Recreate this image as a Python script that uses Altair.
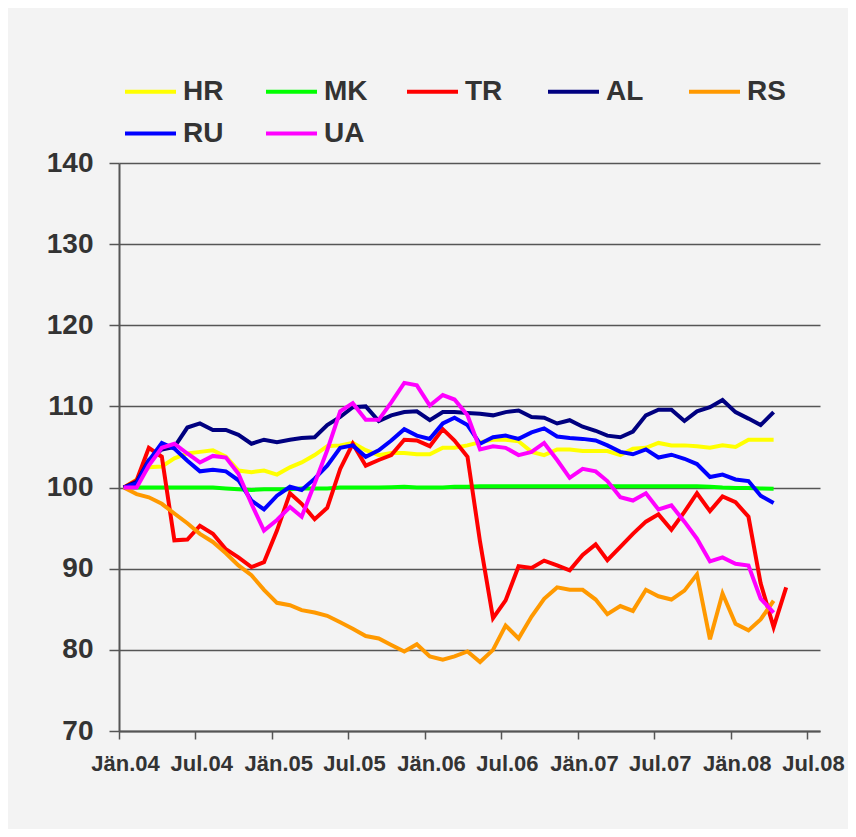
import json
import altair as alt
import pandas as pd

# ---------------- data ----------------
series = ["HR", "MK", "TR", "AL", "RS", "RU", "UA"]
colors = ["#FFFF00", "#00FF00", "#FF0000", "#000080", "#FF9900", "#0000FF", "#FF00FF"]

months = pd.date_range("2004-01-01", periods=53, freq="MS").strftime("%Y-%m-%d").tolist()

tick_labels = ["Jän.04", "Jul.04", "Jän.05", "Jul.05", "Jän.06",
               "Jul.06", "Jän.07", "Jul.07", "Jän.08", "Jul.08"]
y_ticks = [70, 80, 90, 100, 110, 120, 130, 140]

HR = [100, 101.0, 102.5, 102.6, 103.6, 104.2, 104.4, 104.6, 103.8, 102.1,
      101.9, 102.1, 101.6, 102.5, 103.1, 104.0, 105.1, 105.2, 105.5, 104.6,
      104.0, 104.25, 104.25, 104.1, 104.1, 104.9, 104.9, 105.2, 105.6, 105.9,
      105.9, 105.7, 104.4, 104.0, 104.7, 104.7, 104.5, 104.5, 104.5, 104.0,
      104.8, 104.9, 105.5, 105.2, 105.2, 105.1, 104.9, 105.2, 105.0, 105.9,
      105.9, 105.9]
MK = [100, 100, 100, 100, 100, 100, 100, 100, 99.9, 99.8,
      99.7, 99.8, 99.8, 99.8, 99.9, 99.9, 99.9, 100.0, 100.0, 100.0,
      100.0, 100.05, 100.1, 100.0, 100.0, 100.0, 100.1, 100.1, 100.15, 100.15,
      100.15, 100.15, 100.15, 100.15, 100.15, 100.15, 100.15, 100.15, 100.15, 100.15,
      100.15, 100.15, 100.15, 100.15, 100.15, 100.15, 100.1, 100.0, 99.95, 99.95,
      99.9, 99.85]
TR = [100, 100.9, 104.9, 103.8, 93.5, 93.6, 95.3, 94.3, 92.4, 91.4,
      90.2, 90.8, 94.7, 99.3, 98.0, 96.1, 97.5, 102.3, 105.4, 102.7,
      103.4, 104.0, 105.9, 105.8, 105.1, 107.2, 105.8, 103.8, 93.3, 83.9,
      86.1, 90.3, 90.1, 91.0, 90.4, 89.8, 91.7, 93.0, 91.05, 92.7,
      94.3, 95.8, 96.7, 94.8, 97.0, 99.3, 97.1, 98.9, 98.2, 96.4,
      88.2, 82.8, 87.7]
AL = [100, 100.7, 103.4, 104.7, 105.0, 107.4, 107.9, 107.1, 107.1, 106.5,
      105.4, 105.9, 105.6, 105.9, 106.1, 106.2, 107.7, 108.7, 109.9, 110.0,
      108.2, 108.9, 109.3, 109.4, 108.3, 109.3, 109.3, 109.2, 109.1, 108.9,
      109.3, 109.5, 108.7, 108.6, 107.9, 108.3, 107.5, 107.0, 106.4, 106.2,
      106.9, 108.9, 109.6, 109.6, 108.2, 109.4, 109.9, 110.8, 109.3, 108.5,
      107.7, 109.3]
RS = [100, 99.2, 98.8, 98.0, 96.8, 95.6, 94.3, 93.3, 91.9, 90.4,
      89.2, 87.4, 85.8, 85.5, 84.9, 84.6, 84.2, 83.4, 82.6, 81.7,
      81.4, 80.6, 79.8, 80.7, 79.2, 78.8, 79.2, 79.8, 78.5, 80.0,
      83.0, 81.4, 84.1, 86.3, 87.7, 87.4, 87.4, 86.2, 84.4, 85.4,
      84.8, 87.4, 86.6, 86.2, 87.3, 89.3, 81.3, 86.95, 83.2, 82.4,
      83.75, 86.05]
RU = [100, 100.5, 103.3, 105.5, 104.8, 103.3, 102.0, 102.2, 102.0, 100.9,
      98.4, 97.3, 99.0, 100.1, 99.7, 101.1, 102.7, 104.9, 105.2, 103.8,
      104.6, 105.8, 107.2, 106.4, 106.0, 107.9, 108.6, 107.7, 105.4, 106.2,
      106.4, 106.0, 106.8, 107.3, 106.3, 106.1, 106.0, 105.8, 105.2, 104.4,
      104.1, 104.7, 103.7, 104.05, 103.55, 102.9, 101.3, 101.6, 101.0, 100.8,
      99.0, 98.1]
UA = [100, 100.0, 102.7, 104.9, 105.4, 104.2, 103.1, 103.9, 103.7, 101.7,
      98.0, 94.7, 96.0, 97.6, 96.4, 100.5, 104.6, 109.4, 110.4, 108.35,
      108.35, 110.5, 112.9, 112.6, 110.1, 111.4, 110.85, 108.9, 104.7, 105.1,
      104.9, 104.0, 104.4, 105.5, 103.4, 101.2, 102.3, 102.0, 100.8, 98.8,
      98.4, 99.3, 97.3, 97.8, 95.8, 93.7, 90.9, 91.4, 90.6, 90.4,
      86.3, 84.6]

rows = []
for k, (name, vals) in enumerate(zip(series, [HR, MK, TR, AL, RS, RU, UA])):
    for m, v in zip(months, vals):
        rows.append({"month": m, "country": name, "value": v, "k": k})
df = pd.DataFrame(rows)

FONT = "Liberation Sans, Arial, Helvetica, sans-serif"
TXT = "#333333"
LINE = "#555555"

tick_values = [alt.DateTime(year=2004 + i // 2, month=1 + 6 * (i % 2), date=1, utc=True)
               for i in range(len(tick_labels))]
label_expr = (json.dumps(tick_labels, ensure_ascii=False) +
              "[round((utcyear(datum.value) - 2004) * 2 + utcmonth(datum.value) / 6)]")

chart = alt.Chart(df).mark_line(strokeWidth=4, xOffset=4.7).encode(
    x=alt.X("month:T",
            scale=alt.Scale(type="utc",
                            domain=[alt.DateTime(year=2004, month=1, date=1, utc=True),
                                    alt.DateTime(year=2008, month=8, date=1, utc=True)]),
            axis=alt.Axis(values=tick_values, labelExpr=label_expr, title=None, grid=False,
                          domainColor=LINE, domainWidth=2, tickColor=LINE, tickWidth=1.5,
                          tickSize=8, labelFont=FONT, labelFontSize=22, labelFontWeight="bold",
                          labelColor=TXT, labelPadding=14, labelOffset=6, labelFlush=False,
                          labelOverlap=False)),
    y=alt.Y("value:Q",
            scale=alt.Scale(domain=[70, 140], nice=False, zero=False),
            axis=alt.Axis(values=y_ticks, title=None, grid=True, gridColor=LINE,
                          gridWidth=1.5, gridOpacity=1, domainColor=LINE, domainWidth=2,
                          tickColor=LINE, tickWidth=1.5, tickSize=10, labelFont=FONT,
                          labelFontSize=28, labelFontWeight="bold", labelColor=TXT,
                          labelPadding=16)),
    color=alt.Color("country:N",
                    scale=alt.Scale(domain=series, range=colors),
                    legend=alt.Legend(orient="none", legendX=4, legendY=-99,
                                      direction="horizontal", columns=5,
                                      symbolType="stroke", symbolSize=2601,
                                      symbolStrokeWidth=4, labelFont=FONT,
                                      labelFontSize=28, labelFontWeight="bold",
                                      labelColor=TXT, labelOffset=5, columnPadding=31,
                                      rowPadding=-13, title=None, padding=0,
                                      gridAlign="all")),
    order=alt.Order("k:Q"),
).properties(
    width=701, height=568,
    autosize=alt.AutoSizeParams(type="none"),
    padding={"left": 111, "top": 155, "right": 28, "bottom": 98},
    background="#f3f3f3",
).configure_view(stroke=None)

chart.save("out.html", embed_options={"renderer": "svg", "actions": False})
